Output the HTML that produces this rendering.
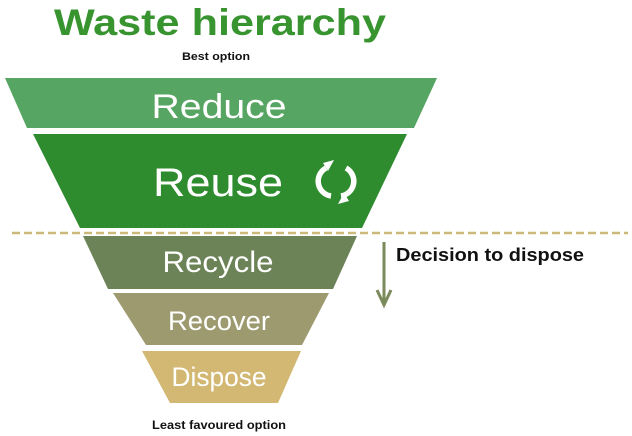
<!DOCTYPE html>
<html><head><meta charset="utf-8"><style>
html,body{margin:0;padding:0;background:#fff;width:632px;height:436px;overflow:hidden}
svg{display:block}
text{font-family:"Liberation Sans",sans-serif}
</style></head><body>
<svg width="632" height="436" viewBox="0 0 632 436" xmlns="http://www.w3.org/2000/svg">
<text x="220" y="35" text-anchor="middle" font-size="37" font-weight="bold" fill="#37942f" textLength="332" lengthAdjust="spacingAndGlyphs">Waste hierarchy</text>
<text x="216" y="60" text-anchor="middle" font-size="11" font-weight="bold" fill="#111" textLength="68" lengthAdjust="spacingAndGlyphs">Best option</text>
<polygon points="5,78 437,78 414,128 27,128" fill="#56a562"/>
<polygon points="33,134 407,134 362,228 80,228" fill="#2e8b2e"/>
<polygon points="83,236 357,236 333,289 108,289" fill="#6b8357"/>
<polygon points="113,293 329,293 302,345 146,345" fill="#9c9a6e"/>
<polygon points="142,351 301,351 278,403 170,403" fill="#d2b872"/>
<line x1="12" y1="233" x2="628" y2="233" stroke="#cdb97a" stroke-width="2.5" stroke-dasharray="8,4"/>
<g fill="#fff" text-anchor="middle" lengthAdjust="spacingAndGlyphs">
<text x="219" y="118" font-size="34" textLength="135" lengthAdjust="spacingAndGlyphs">Reduce</text>
<text x="218" y="196" font-size="40" textLength="130" lengthAdjust="spacingAndGlyphs">Reuse</text>
<text x="218" y="272" font-size="30" textLength="111" lengthAdjust="spacingAndGlyphs">Recycle</text>
<text x="219" y="330" font-size="27" textLength="102" lengthAdjust="spacingAndGlyphs">Recover</text>
<text x="219" y="386" font-size="27" textLength="95" lengthAdjust="spacingAndGlyphs">Dispose</text>
</g>
<g fill="none" stroke="#fff" stroke-width="5.5">
<path d="M326,168 A15,15 0 0 0 331,196"/>
<path d="M346,168 A15,15 0 0 1 341,196"/>
</g>
<polygon points="323,163 334,160 328,171" fill="#fff"/>
<polygon points="349,201 338,204 344,193" fill="#fff"/>
<line x1="384" y1="242" x2="384" y2="303" stroke="#7a8a5a" stroke-width="3"/>
<polyline points="377,290 384,305 391,290" fill="none" stroke="#7a8a5a" stroke-width="3"/>
<text x="396" y="261" font-size="18" font-weight="bold" fill="#111" textLength="188" lengthAdjust="spacingAndGlyphs">Decision to dispose</text>
<text x="219" y="429" text-anchor="middle" font-size="12" font-weight="bold" fill="#111" textLength="134" lengthAdjust="spacingAndGlyphs">Least favoured option</text>
</svg>
</body></html>
